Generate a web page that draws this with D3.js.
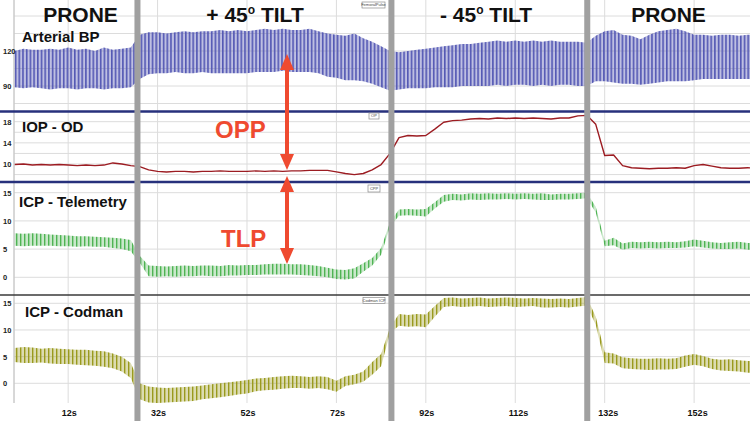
<!DOCTYPE html>
<html><head><meta charset="utf-8">
<script src="https://cdn.jsdelivr.net/npm/d3@7"></script>
<style>
html,body{margin:0;padding:0;background:#fff;}
svg{display:block;font-family:"Liberation Sans",Arial,Helvetica,sans-serif;}
</style></head><body>
<svg id="c" width="750" height="421"></svg>
<script>
// ---------- DATA ----------
// sampling times, seconds
const time = [0,2,4,6,8,10,12,14,16,18,20,22,24,26,28,30,32,34,36,38,40,42,44,46,48,50,52,54,56,58,60,62,64,66,68,70,72,74,76,78,80,82,84,86,88,90,92,94,96,98,100,102,104,106,108,110,112,114,116,118,120,122,124,126,128,130,132,134,136,138,140,142,144,146,148,150,152,154,156,158,160,162,164,166];
// Arterial BP envelope (mmHg): systolic peaks / diastolic troughs
const bpHi = [120,122,121,121,122,121,123,121,122,120,123,121,122,123,
  134,136,136,135,136,137,136,137,137,138,137,138,137,
  138,139,138,139,138,138,139,137,135,134,133,135,131,128,124,120,
  119,120,121,122,123,124,125,126,126,127,128,129,128,129,128,129,128,129,128,128,128,127,
  133,137,138,134,133,130,134,137,138,139,137,134,134,133,134,134,133,134,134];
const bpLo = [89,88,89,88,87,88,88,87,88,88,87,88,88,89,
  96,100,101,101,102,101,101,102,101,101,101,101,101,
  102,102,102,103,102,102,102,101,98,97,95,95,94,92,89,86,
  87,88,88,88,89,89,89,90,90,90,90,91,90,91,91,90,91,90,91,91,90,90,
  94,94,93,92,92,91,92,93,94,94,94,95,96,96,96,96,96,96,96];
// IOP - OD (mmHg)
const iop = [9.9,10.0,9.8,9.9,9.8,9.9,9.8,9.7,9.8,9.7,9.8,10.2,10.0,9.7,
  9.5,8.9,8.6,8.5,8.6,8.6,8.5,8.6,8.6,8.7,8.6,8.6,8.6,
  8.7,8.6,8.7,8.6,8.7,8.7,8.8,8.8,8.8,8.5,8.2,8.0,8.2,8.9,9.9,12.0,
  15.0,15.4,15.3,15.4,16.6,17.9,18.2,18.3,18.5,18.6,18.5,18.7,18.6,18.7,18.6,18.7,18.6,18.5,18.7,18.7,19.1,19.2,
  17.5,11.6,11.7,9.7,9.3,9.2,9.1,9.2,9.2,9.3,9.2,9.7,9.9,9.6,9.3,9.2,9.2,9.3,9.2];
// ICP - Telemetry envelope (mmHg)
const telHi = [7.8,7.7,7.8,7.7,7.6,7.5,7.4,7.3,7.3,7.2,7.1,7.0,6.9,6.6,
  3.8,2.1,2.0,1.9,2.0,2.1,2.0,2.1,2.1,2.0,2.2,2.1,2.2,
  2.2,2.3,2.4,2.4,2.3,2.3,2.2,2.0,1.7,1.4,1.3,1.6,2.5,3.4,5.2,9.8,
  12.0,12.1,12.0,12.1,13.3,14.6,14.8,14.7,14.9,14.8,14.9,14.8,14.9,14.8,14.9,14.8,14.9,14.7,14.8,14.8,14.9,15.0,
  12.5,6.5,7.0,6.0,6.3,6.2,6.3,6.2,6.3,6.2,6.4,6.7,6.5,6.2,6.1,6.2,6.3,6.1,6.1];
const telLo = [5.6,5.5,5.6,5.6,5.6,5.5,5.5,5.4,5.5,5.4,5.4,5.2,5.0,4.6,
  2.6,0.2,0.1,0.2,0.1,0.2,0.2,0.3,0.2,0.2,0.3,0.3,0.4,
  0.4,0.5,0.5,0.5,0.5,0.4,0.3,0.2,0.0,-0.3,-0.4,-0.2,1.0,2.1,4.0,9.0,
  10.9,11.0,10.9,10.8,12.2,13.4,13.7,13.6,13.8,13.7,13.8,13.8,13.9,13.8,13.9,13.8,13.7,13.7,13.8,13.8,13.9,14.0,
  11.5,5.5,5.7,4.9,5.2,5.1,5.2,5.1,5.2,5.2,5.3,5.5,5.3,5.1,5.0,5.0,5.1,4.9,4.9];
// ICP - Codman envelope (mmHg)
const codHi = [6.6,6.8,6.7,6.5,6.6,6.5,6.4,6.3,6.3,6.1,6.0,5.6,5.0,3.8,
  0.0,-0.6,-0.8,-0.9,-0.8,-0.7,-0.6,-0.4,-0.2,0.0,0.2,0.4,0.6,
  0.9,1.0,1.2,1.3,1.4,1.3,1.2,1.3,1.2,0.5,1.3,1.6,2.2,4.0,5.5,10.5,
  13.0,12.8,13.0,12.9,14.5,16.0,16.1,15.9,16.0,16.1,15.9,16.0,16.1,16.0,15.9,16.0,15.9,15.8,15.9,15.8,16.0,16.2,
  12.5,5.8,5.6,4.9,4.7,4.6,4.6,4.7,4.6,4.7,5.2,5.5,5.1,4.6,4.4,4.5,4.3,4.2,4.1];
const codLo = [4.0,3.8,3.8,3.9,3.7,3.6,3.6,3.5,3.4,3.3,3.1,2.8,2.2,1.0,
  -3.0,-3.6,-3.7,-3.6,-3.5,-3.4,-3.3,-3.0,-2.8,-2.6,-2.4,-2.1,-1.9,
  -1.5,-1.3,-1.2,-1.0,-0.9,-0.9,-1.0,-0.9,-1.1,-1.6,-0.5,-0.2,0.3,1.6,3.2,9.5,
  10.8,10.6,10.7,10.5,12.5,14.3,14.5,14.3,14.4,14.5,14.3,14.4,14.5,14.3,14.4,14.5,14.2,14.2,14.3,14.2,14.4,14.6,
  11.0,3.8,3.7,2.8,2.7,2.6,2.5,2.6,2.6,2.7,3.1,3.5,3.2,2.7,2.4,2.3,2.2,2.0,2.0];
// position changes (s) and phase names
const phaseBreaks = [27.5, 84.3, 128.1];
const phaseNames = ["PRONE", "+ 45|o| TILT", "- 45|o| TILT", "PRONE"];
// axis ticks
const timeTicks = [12,32,52,72,92,112,132,152];
const bpTicks = [90,120], bpGrid = [75,90,105,120,135,150];
const iopTicks = [10,14,18], iopGrid = [8,10,12,14,16,18];
const icpTicks = [0,5,10,15];
const traceNames = ["Arterial BP","IOP - OD","ICP - Telemetry","ICP - Codman"];
const channelTags = ["FemoralPulse","OP","CPP","Codman ICP"];

// ---------- LAYOUT ----------
const W = 750, H = 421;
const svg = d3.select("#c");
const x = d3.scaleLinear().domain([0, 164.5]).range([14.5, 750]);
const yBP  = d3.scaleLinear().domain([90,120]).range([86,51]);
const yIOP = d3.scaleLinear().domain([10,18]).range([164,121.7]);
const yTel = d3.scaleLinear().domain([0,15]).range([277.3,192.7]);
const yCod = d3.scaleLinear().domain([0,15]).range([383.3,303.3]);
const plotBottom = 403;

// stripe patterns that render the pulsatile traces
const defs = svg.append("defs");
function stripe(id, color, bgOp, w, period){
  const p = defs.append("pattern").attr("id",id).attr("patternUnits","userSpaceOnUse")
    .attr("width",period).attr("height",10);
  p.append("rect").attr("width",period).attr("height",10).attr("fill",color).attr("opacity",bgOp);
  p.append("rect").attr("width",w).attr("height",10).attr("fill",color);
}
stripe("pBP","#5458b4",0.38,1.6,3.7);
stripe("pTel","#4fb453",0.3,1.4,4.0);
stripe("pCod","#999a1e",0.35,1.4,4.0);
defs.append("clipPath").attr("id","clip").append("rect")
  .attr("x",14.5).attr("y",0).attr("width",W-14.5).attr("height",plotBottom);

// grid
const grid = svg.append("g").attr("stroke","#dcdcdc").attr("stroke-width",1);
function hgrid(vals, y){
  grid.selectAll(null).data(vals).join("line")
    .attr("x1",14.5).attr("x2",W).attr("y1",d=>y(d)).attr("y2",d=>y(d));
}
hgrid(bpGrid,yBP); hgrid(iopGrid,yIOP); hgrid(icpTicks,yTel); hgrid(icpTicks,yCod);
grid.selectAll(null).data(timeTicks).join("line")
  .attr("x1",d=>x(d)).attr("x2",d=>x(d)).attr("y1",0).attr("y2",plotBottom);
svg.append("line").attr("x1",14).attr("x2",14).attr("y1",0).attr("y2",plotBottom)
  .attr("stroke","#b0b0b0").attr("stroke-width",1);

// traces
const idx = d3.range(time.length);
const traces = svg.append("g").attr("clip-path","url(#clip)");
function band(hi, lo, y, fill, edge){
  traces.append("path").datum(idx).attr("fill",fill)
    .attr("d", d3.area().x(i=>x(time[i])).y0(i=>y(lo[i])).y1(i=>y(hi[i])));
}
band(bpHi,bpLo,yBP,"url(#pBP)");
band(telHi,telLo,yTel,"url(#pTel)");
band(codHi,codLo,yCod,"url(#pCod)");
traces.append("path").datum(idx).attr("fill","none").attr("stroke","#9c1c22").attr("stroke-width",1.4)
  .attr("stroke-linejoin","round")
  .attr("d", d3.line().x(i=>x(time[i])).y(i=>yIOP(iop[i])));

// separators
svg.append("line").attr("x1",0).attr("x2",W).attr("y1",111.5).attr("y2",111.5).attr("stroke","#27317c").attr("stroke-width",2.6);
svg.append("line").attr("x1",0).attr("x2",W).attr("y1",182).attr("y2",182).attr("stroke","#27317c").attr("stroke-width",2.6);
svg.append("line").attr("x1",0).attr("x2",W).attr("y1",295).attr("y2",295).attr("stroke","#3a3a3a").attr("stroke-width",1.6);

// y tick labels
function yLabels(scale, ticks){
  const g = svg.append("g").attr("transform","translate(3,0)")
    .call(d3.axisRight(scale).tickValues(ticks).tickSize(0).tickPadding(0));
  g.select(".domain").remove();
  g.selectAll("text").attr("font-size",7.5).attr("font-weight","bold").attr("fill","#222")
    .attr("font-family","'Liberation Sans',Arial,sans-serif");
}
yLabels(yBP,bpTicks); yLabels(yIOP,iopTicks); yLabels(yTel,icpTicks); yLabels(yCod,icpTicks);

// x axis labels
const xa = svg.append("g").attr("transform","translate(0,406.5)")
  .call(d3.axisBottom(x).tickValues(timeTicks).tickFormat(d=>d+"s").tickSize(0).tickPadding(3));
xa.select(".domain").remove();
xa.selectAll("text").attr("font-size",9).attr("font-weight","bold").attr("fill","#111")
  .attr("text-anchor","start").attr("x",-7).attr("font-family","'Liberation Sans',Arial,sans-serif");

// channel tags
const tagPos = [[362,2,23,6],[369,113,10,6],[368,185,12,7],[363,297.5,22,6]];
channelTags.forEach((t,i)=>{
  const [tx,ty,tw,th] = tagPos[i];
  svg.append("rect").attr("x",tx).attr("y",ty).attr("width",tw).attr("height",th)
    .attr("fill","#fff").attr("stroke","#8a8a8a").attr("stroke-width",0.7);
  svg.append("text").attr("x",tx+tw/2).attr("y",ty+th-1.6).attr("text-anchor","middle")
    .attr("font-size",4).attr("fill","#444").text(t);
});

// trace names
const namePos = [[22,41.5],[22,131.5],[19,206.5],[25,316.5]];
traceNames.forEach((t,i)=>{
  svg.append("text").attr("x",namePos[i][0]).attr("y",namePos[i][1])
    .attr("font-size",15).attr("font-weight","bold").attr("fill","#111").text(t);
});

// red arrows (OPP / TLP)
const red = "#ef4a30";
function dblArrow(cx, y1, y2){
  const hl = 16, hw = 7;
  svg.append("line").attr("x1",cx).attr("x2",cx).attr("y1",y1+hl-1).attr("y2",y2-hl+1)
    .attr("stroke",red).attr("stroke-width",4);
  svg.append("path").attr("fill",red)
    .attr("d",`M${cx},${y1} L${cx-hw},${y1+hl} L${cx+hw},${y1+hl} Z M${cx},${y2} L${cx-hw},${y2-hl} L${cx+hw},${y2-hl} Z`);
}
dblArrow(287, 54, 170);
dblArrow(287, 176, 264);
svg.append("text").attr("x",215).attr("y",138).attr("font-size",24).attr("font-weight","bold").attr("fill",red).text("OPP");
svg.append("text").attr("x",221).attr("y",247).attr("font-size",24).attr("font-weight","bold").attr("fill",red).text("TLP");

// gray bars at position changes
svg.selectAll(null).data(phaseBreaks).join("rect")
  .attr("x",d=>x(d)-3).attr("y",0).attr("width",6).attr("height",H).attr("fill","#a0a0a0");

// phase headers
const headX = [80.5, 255, 486, 668.5];
phaseNames.forEach((n,i)=>{
  const parts = n.split("|");
  const t = svg.append("text").attr("x",headX[i]).attr("y",22).attr("text-anchor","middle")
    .attr("font-size",21).attr("font-weight","bold").attr("fill","#111");
  t.append("tspan").text(parts[0]);
  if(parts.length>1){
    t.append("tspan").attr("font-size",12).attr("dy",-8).text(parts[1]);
    t.append("tspan").attr("dy",8).text(parts[2]);
  }
});
</script>
</body></html>
